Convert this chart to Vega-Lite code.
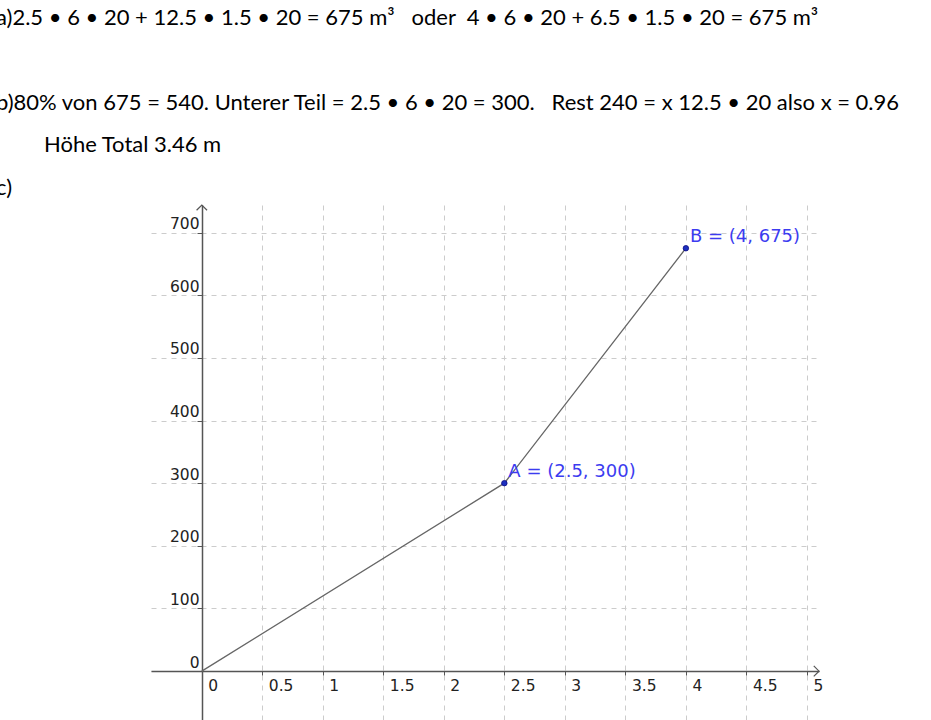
{
  "$schema": "https://vega.github.io/schema/vega-lite/v6.json",
  "autosize": "none",
  "width": 668,
  "height": 515,
  "padding": {"left": 151, "top": 205, "right": 112, "bottom": 0},
  "background": "white",
  "config": {"view": {"stroke": null}},
  "title": {
    "text": [
      "a)2.5 • 6 • 20 + 12.5 • 1.5 •  20 = 675 m³\u00a0\u00a0 oder\u00a0 4 • 6 • 20 + 6.5 •  1.5 • 20 = 675 m³",
      "\u2800",
      "b)80% von 675 = 540. Unterer Teil = 2.5 • 6 • 20 = 300.\u00a0\u00a0 Rest 240 = x 12.5 • 20 also x = 0.96",
      "\u2800\u2800\u2800Höhe Total 3.46 m",
      "c)"
    ],
    "anchor": "start",
    "frame": "bounds",
    "dx": -155,
    "dy": 3,
    "offset": 6,
    "font": "Lato",
    "fontSize": 22,
    "fontWeight": "normal",
    "color": "#000000",
    "lineHeight": 42.5
  },
  "datasets": {
    "pts": [
      {"name": "A", "x": 2.5, "y": 300, "label": "A = (2.5, 300)"},
      {"name": "B", "x": 4, "y": 675, "label": "B = (4, 675)"}
    ],
    "polyline": [
      {"x": 0, "y": 0},
      {"x": 2.5, "y": 300},
      {"x": 4, "y": 675}
    ]
  },
  "layer": [
    {
      "data": {"name": "polyline"},
      "mark": {"type": "line", "color": "#666666", "strokeWidth": 1.3},
      "encoding": {
        "x": {
          "field": "x", "type": "quantitative",
          "scale": {"domain": [-0.42, 5.1], "nice": false, "zero": false},
          "axis": {
            "orient": "bottom", "offset": -49, "title": null,
            "values": [0, 0.5, 1, 1.5, 2, 2.5, 3, 3.5, 4, 4.5, 5],
            "format": "~g",
            "grid": true, "gridDash": [5, 5], "gridColor": "#cccccc", "gridWidth": 1,
            "domainColor": "#555555", "domainWidth": 1.5,
            "ticks": true, "tickSize": 4, "tickColor": "#555555",
            "labelAlign": "left", "labelOffset": 6, "labelPadding": 3,
            "labelFont": "DejaVu Sans", "labelFontSize": 15.5, "labelColor": "#222222",
            "labelFlush": false, "labelOverlap": false
          }
        },
        "y": {
          "field": "y", "type": "quantitative",
          "scale": {"domain": [-78, 744], "nice": false, "zero": false},
          "axis": {
            "orient": "left", "offset": -51, "title": null,
            "values": [0, 100, 200, 300, 400, 500, 600, 700],
            "grid": true, "gridDash": [5, 5], "gridColor": "#cccccc", "gridWidth": 1,
            "domainColor": "#555555", "domainWidth": 1.5,
            "ticks": true, "tickSize": 5, "tickColor": "#555555",
            "labelAlign": "right", "labelBaseline": "bottom", "labelPadding": -2, "labelOffset": -1,
            "labelFont": "DejaVu Sans", "labelFontSize": 15.5, "labelColor": "#222222",
            "labelFlush": false, "labelOverlap": false
          }
        }
      }
    },
    {
      "data": {"name": "pts"},
      "mark": {"type": "point", "shape": "circle", "filled": true, "size": 30, "fill": "#1c2fbf", "stroke": "#0a0a80", "strokeWidth": 0.8, "opacity": 1},
      "encoding": {
        "x": {"field": "x", "type": "quantitative"},
        "y": {"field": "y", "type": "quantitative"}
      }
    },
    {
      "data": {"name": "pts"},
      "mark": {"type": "text", "align": "left", "baseline": "middle", "dx": 4, "dy": -11, "font": "DejaVu Sans", "fontSize": 18, "color": "#3c3cf0"},
      "encoding": {
        "x": {"field": "x", "type": "quantitative"},
        "y": {"field": "y", "type": "quantitative"},
        "text": {"field": "label"}
      }
    },
    {
      "data": {"values": [{}]},
      "mark": {"type": "point", "shape": "M-1,-1L0,0L-1,1", "filled": false, "size": 110, "stroke": "#555555", "strokeWidth": 1.2, "opacity": 1},
      "encoding": {
        "x": {"datum": 5.1, "type": "quantitative"},
        "y": {"datum": 0, "type": "quantitative"}
      }
    },
    {
      "data": {"values": [{}]},
      "mark": {"type": "point", "shape": "M-1,1L0,0L1,1", "filled": false, "size": 110, "stroke": "#555555", "strokeWidth": 1.2, "opacity": 1},
      "encoding": {
        "x": {"datum": 0, "type": "quantitative"},
        "y": {"datum": 744, "type": "quantitative"}
      }
    }
  ]
}
